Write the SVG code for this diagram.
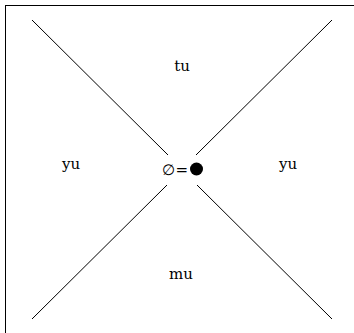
<svg xmlns="http://www.w3.org/2000/svg" width="354" height="333" viewBox="0 0 354 333">
<style>
.t{font-family:"DejaVu Serif","Liberation Serif",serif;font-size:15px;fill:#000;text-anchor:middle}
.l{stroke:#000;stroke-width:1;fill:none}
</style>
<rect x="0" y="0" width="354" height="333" fill="#fff"/>
<rect x="5.5" y="5.5" width="400" height="400" fill="none" stroke="#000" stroke-width="1"/>
<g id="connectors">
<line class="l" x1="32" y1="20" x2="168" y2="155"/>
<line class="l" x1="332" y1="20" x2="196" y2="155"/>
<line class="l" x1="32" y1="319" x2="167" y2="185"/>
<line class="l" x1="332" y1="319" x2="197" y2="185"/>
</g>
<g id="n-tu"><text class="t" x="182" y="71">tu</text></g>
<g id="n-yu-left"><text class="t" x="71" y="169">yu</text></g>
<g id="n-yu-right"><text class="t" x="288" y="169">yu</text></g>
<g id="n-mu"><text class="t" x="181" y="279">mu</text></g>
<g id="n-center"><text class="t" x="188" y="175" style="text-anchor:end">∅=</text><circle cx="196.5" cy="169" r="6.5" fill="#000"/></g>
</svg>
